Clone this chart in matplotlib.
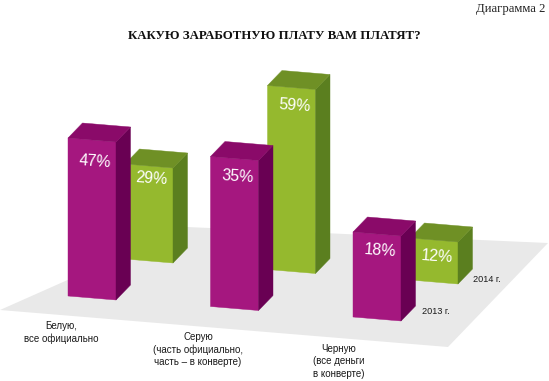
import matplotlib
matplotlib.use("Agg")
import matplotlib.pyplot as plt
from matplotlib.patches import Polygon

categories = ["Белую,\nвсе официально",
              "Серую\n(часть официально,\nчасть – в конверте)",
              "Черную\n(все деньги\nв конверте)"]
years = ["2013 г.", "2014 г."]
share_2013 = [47, 35, 18]
share_2014 = [29, 59, 12]
# the bars in the source are not proportional to their labels, so drawn heights are read separately
drawn_2013 = [158, 150, 85]
drawn_2014 = [95, 184, 42]

FRONT = ["#A5177F", "#95B92E"]
TOP = ["#8A0A69", "#6F9025"]
SIDE = ["#690053", "#5B7F1F"]
FLOOR = "#E9E9E9"

# how far below the bar top each percent label sits
label_drop = [[22, 18, 17], [13, 18, 17]]


def project(i, s, w=0, d=0, h=0):
    # i category, s series, w/d position across the bar width/depth, h height
    x = 68 + 142.5 * i + 57 * s + 48 * w + 14.5 * d
    y = 296 + 10.5 * i - 37 * s + 4 * w - 15 * d - h
    return x, y


def draw_bar(ax, i, s, h):
    corners = {
        "front": [(0, 0, 0), (1, 0, 0), (1, 0, h), (0, 0, h)],
        "side": [(1, 0, 0), (1, 1, 0), (1, 1, h), (1, 0, h)],
        "top": [(0, 0, h), (1, 0, h), (1, 1, h), (0, 1, h)],
    }
    colors = {"front": FRONT[s], "side": SIDE[s], "top": TOP[s]}
    for face, pts in corners.items():
        xy = [project(i, s, w, d, z) for w, d, z in pts]
        ax.add_patch(Polygon(xy, closed=True, facecolor=colors[face], edgecolor=colors[face], linewidth=0.3))


fig = plt.figure(figsize=(5.49, 3.81), dpi=100)
ax = fig.add_axes([0, 0, 1, 1])
ax.set_xlim(0, 549)
ax.set_ylim(381, 0)
ax.axis("off")

ax.add_patch(Polygon([(0, 310), (187, 227), (548, 243), (448, 347)], closed=True, facecolor=FLOOR, edgecolor="none"))

sans = "Liberation Sans"
serif = "Liberation Serif"

for i in range(len(categories)):
    draw_bar(ax, i, 1, drawn_2014[i])
    draw_bar(ax, i, 0, drawn_2013[i])

for s, (shares, drawn) in enumerate([(share_2013, drawn_2013), (share_2014, drawn_2014)]):
    for i, v in enumerate(shares):
        x, y = project(i, s, w=0.5, h=drawn[i])
        ax.text(x + 3, y + label_drop[s][i], "%d%%" % v, color="white", fontsize=11.5, family=sans,
                ha="center", va="center", rotation=-4, rotation_mode="anchor")

label_x = [61, 198, 339]
label_y = [321, 332, 344]
for x, y, t in zip(label_x, label_y, categories):
    ax.text(x, y, t, fontsize=7, family=sans, color="#1a1a1a", ha="center", va="top", linespacing=1.3)

ax.text(436, 312, years[0], fontsize=6.6, family=sans, color="#1a1a1a", ha="center", va="center")
ax.text(487, 279, years[1], fontsize=6.6, family=sans, color="#1a1a1a", ha="center", va="center")

ax.text(274, 36, "КАКУЮ ЗАРАБОТНУЮ ПЛАТУ ВАМ ПЛАТЯТ?", fontsize=9.3, family=serif, weight="bold",
        color="#111111", ha="center", va="center")
ax.text(545, 9, "Диаграмма 2", fontsize=9.2, family=serif, color="#222222", ha="right", va="center")

fig.savefig("out.png", dpi=100)
